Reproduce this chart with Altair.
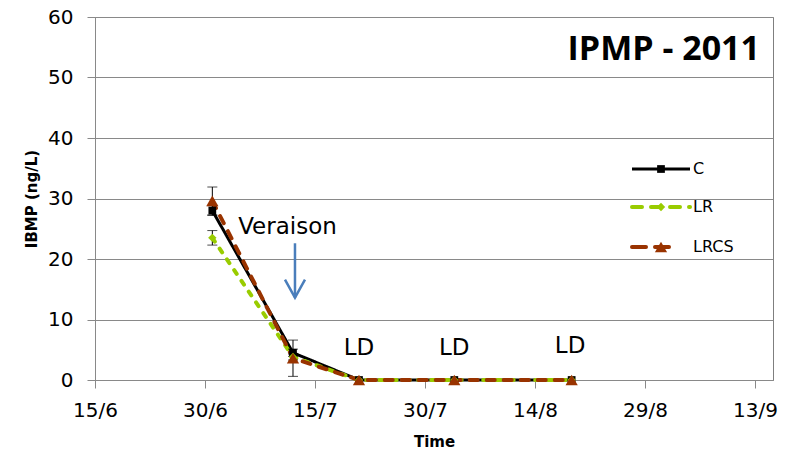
import altair as alt
import pandas as pd

# Sampling dates (2011) and IBMP concentrations (ng/L) per treatment
dates = ["2011-07-01", "2011-07-12", "2011-07-21", "2011-08-03", "2011-08-19"]
series_names = ["C", "LR", "LRCS"]
c_vals = [28.0, 4.5, 0.0, 0.0, 0.0]
lr_vals = [23.5, 3.8, 0.0, 0.0, 0.0]
lrcs_vals = [29.6, 3.6, 0.0, 0.0, 0.0]
c_err = [0.8, 0.6, 0.0, 0.0, 0.0]
lr_err = [1.2, 0.5, 0.0, 0.0, 0.0]
lrcs_err = [2.3, 3.0, 0.0, 0.0, 0.0]

tick_dates = ["2011-06-15", "2011-06-30", "2011-07-15", "2011-07-30",
              "2011-08-14", "2011-08-29", "2011-09-13"]
y_ticks = [0, 10, 20, 30, 40, 50, 60]

# "LD" (limit of detection) labels
ld_dates = ["2011-07-21T00:00:00Z", "2011-08-03T00:00:00Z", "2011-08-18T19:00:00Z"]
ld_vals = [4.1, 4.1, 4.45]
ld_text = ["LD", "LD", "LD"]

# Veraison annotation
veraison_label_date = "2011-07-11T06:00:00Z"
veraison_label_val = 24.1
veraison_arrow_date = "2011-07-12T06:30:00Z"
veraison_arrow_from = 22.6
veraison_arrow_to = 13.6

colors = {"C": "#000000", "LR": "#99CC00", "LRCS": "#993300"}
dashes = {"C": [1, 0], "LR": [4.5, 8.5], "LRCS": [8, 9]}
legend_dashes = {"C": [1, 0], "LR": [10, 9], "LRCS": [14, 9]}
caps = {"C": "butt", "LR": "round", "LRCS": "round"}
shapes = {"C": "square", "LR": "diamond", "LRCS": "triangle-up"}
sizes = {"C": 60, "LR": 70, "LRCS": 150}
widths = {"C": 3, "LR": 4, "LRCS": 4}

rows = []
for name, vals, errs in [("C", c_vals, c_err), ("LR", lr_vals, lr_err),
                         ("LRCS", lrcs_vals, lrcs_err)]:
    for d, v, e in zip(dates, vals, errs):
        rows.append({"date": d, "series": name, "value": v, "err": e,
                     "lo": v - e, "hi": v + e})
df = pd.DataFrame(rows)


def dt(s):
    y, m, d = (int(p) for p in s[:10].split("-"))
    return alt.DateTime(year=y, month=m, date=d, utc=True)


x_scale = alt.Scale(type="utc", domain=[dt("2011-06-15"),
                                        alt.DateTime(year=2011, month=9, date=15,
                                                     hours=11, utc=True)])
y_scale = alt.Scale(domain=[0, 60])

x_axis = alt.Axis(values=[dt(t) for t in tick_dates],
                  labelExpr="utcFormat(datum.value, '%-d/%-m')",
                  grid=False, labelOverlap=False, labelFlush=False, labelBound=False)
y_axis = alt.Axis(values=y_ticks, grid=True)


def X(field="date"):
    return alt.X(f"{field}:T", scale=x_scale, title="Time", axis=x_axis)


def Y(field="value"):
    return alt.Y(f"{field}:Q", scale=y_scale, title="IBMP  (ng/L)", axis=y_axis)


base = alt.Chart(df)

lines = []
points = []
for s in series_names:
    sub = base.transform_filter(alt.datum.series == s)
    lines.append(sub.mark_line(color=colors[s], strokeDash=dashes[s],
                               strokeCap=caps[s], strokeWidth=widths[s]).encode(
        x=X(), y=Y()))
    points.append(sub.mark_point(shape=shapes[s], filled=True, color=colors[s],
                                 size=sizes[s], opacity=1).encode(x=X(), y=Y()))

err_data = base.transform_filter(alt.datum.err > 0)
err_rules = err_data.mark_rule(color="#000000", strokeWidth=1).encode(
    x=X(), y=Y("lo"), y2="hi:Q")
err_caps_lo = err_data.mark_tick(color="#000000", thickness=1, size=10,
                                 orient="horizontal").encode(x=X(), y=Y("lo"))
err_caps_hi = err_data.mark_tick(color="#000000", thickness=1, size=10,
                                 orient="horizontal").encode(x=X(), y=Y("hi"))

ld_df = pd.DataFrame({"date": ld_dates, "value": ld_vals, "text": ld_text})
ld_layer = alt.Chart(ld_df).mark_text(font="DejaVu Sans", fontSize=23,
                                      align="center", baseline="alphabetic",
                                      color="#000000").encode(
    x=X(), y=Y(), text="text:N")

ver_df = pd.DataFrame({"date": [veraison_label_date], "value": [veraison_label_val],
                       "text": ["Veraison"]})
ver_text = alt.Chart(ver_df).mark_text(font="DejaVu Sans", fontSize=23,
                                       align="center", baseline="alphabetic",
                                       color="#000000").encode(
    x=X(), y=Y(), text="text:N")

arrow_df = pd.DataFrame({"date": [veraison_arrow_date],
                         "top": [veraison_arrow_from], "tip": [veraison_arrow_to]})
arrow_shaft = alt.Chart(arrow_df).mark_rule(color="#4A7EBB", strokeWidth=2.5).encode(
    x=X(), y=Y("top"), y2="tip:Q")
arrow_head = alt.Chart(arrow_df).mark_point(
    shape="M-1,-1.8L0,0L1,-1.8", filled=False, color="#4A7EBB", strokeWidth=2.5,
    size=400, opacity=1).encode(x=X(), y=Y("tip"))

title_text = alt.Chart(pd.DataFrame({"t": ["IPMP - 2011"]})).mark_text(
    font="Open Sans", fontSize=34, fontWeight="bold", align="right",
    baseline="alphabetic", color="#000000").encode(
    x=alt.value(665), y=alt.value(43), text="t:N")

# Legend: line sample with marker and label for each treatment
legend_layers = []
legend_y = {"C": 152, "LR": 190, "LRCS": 230}
legend_end = {"C": 595, "LR": 595, "LRCS": 582}
for s in series_names:
    one = alt.Chart(pd.DataFrame({"series": [s]}))
    legend_layers.append(one.mark_rule(color=colors[s], strokeDash=legend_dashes[s],
                                       strokeCap=caps[s], strokeWidth=widths[s]).encode(
        x=alt.value(537), x2=alt.value(legend_end[s]), y=alt.value(legend_y[s])))
    legend_layers.append(one.mark_point(shape=shapes[s], filled=True, color=colors[s],
                                        size=sizes[s], opacity=1).encode(
        x=alt.value(566), y=alt.value(legend_y[s])))
    legend_layers.append(one.mark_text(font="DejaVu Sans", fontSize=16, align="left",
                                       baseline="middle", color="#000000").encode(
        x=alt.value(598), y=alt.value(legend_y[s]), text="series:N"))

chart = alt.layer(
    *lines, err_rules, err_caps_lo, err_caps_hi, *points,
    ld_layer, ver_text, arrow_shaft, arrow_head, title_text, *legend_layers
).properties(
    width=678, height=363,
    padding={"left": 95, "top": 17, "right": 12, "bottom": 73},
    autosize=alt.AutoSizeParams(type="none"),
    background="#ffffff",
).configure_view(
    stroke="#7f7f7f", strokeWidth=1
).configure_axis(
    labelFont="DejaVu Sans", labelFontSize=20, labelColor="#000000",
    titleFont="DejaVu Sans", titleFontSize=15, titleFontWeight="bold",
    titleColor="#000000", domainColor="#898989", tickColor="#898989",
    gridColor="#898989", tickSize=8,
).configure_axisY(
    labelPadding=14, titlePadding=8,
).configure_axisX(
    labelPadding=12, titlePadding=14,
)

chart.save("out.html", embed_options={"renderer": "svg", "actions": False})
